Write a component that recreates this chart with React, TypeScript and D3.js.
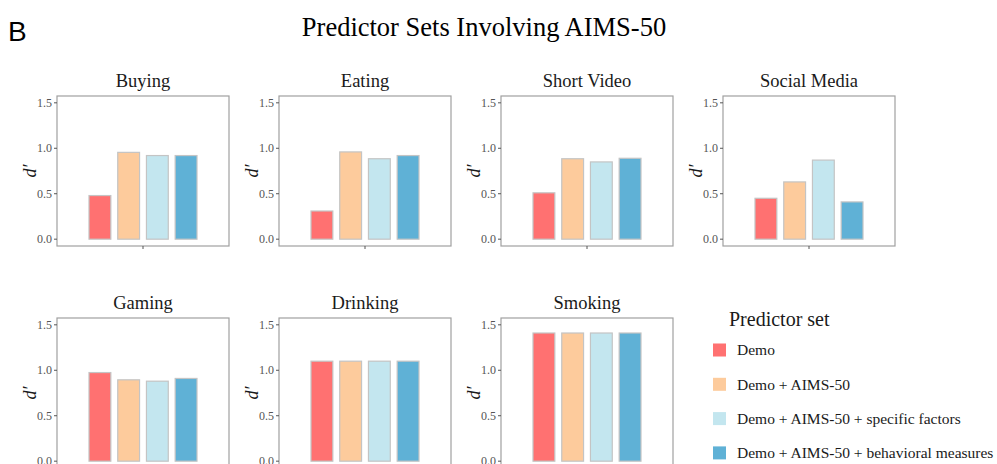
import * as d3 from "d3";

const panels = ["Buying", "Eating", "Short Video", "Social Media", "Gaming", "Drinking", "Smoking"];
const series = [
  "Demo",
  "Demo + AIMS-50",
  "Demo + AIMS-50 + specific factors",
  "Demo + AIMS-50 + behavioral measures",
];
const colors = ["#FF7171", "#FDCB9C", "#C3E6EF", "#5FB1D6"];

// d' per panel, in series order
const buying = [0.48, 0.955, 0.92, 0.92];
const eating = [0.31, 0.96, 0.885, 0.92];
const shortVideo = [0.51, 0.885, 0.85, 0.89];
const socialMedia = [0.45, 0.63, 0.87, 0.41];
const gaming = [0.975, 0.895, 0.88, 0.91];
const drinking = [1.1, 1.1, 1.1, 1.1];
const smoking = [1.41, 1.41, 1.41, 1.41];
const values = [buying, eating, shortVideo, socialMedia, gaming, drinking, smoking];

const yTicks = [0, 0.5, 1, 1.5];

const W = 997;
const H = 464;
const panelW = 172;
const panelH = 150;
const serif = "'Liberation Serif', 'Times New Roman', serif";

const Panel = ({ name, vals, x0, y0 }) => {
  const y = d3.scaleLinear().domain([-0.075, 1.575]).range([panelH, 0]);
  const x = d3.scaleBand().domain(series).range([32, panelW - 32]).paddingInner(0.24);
  const fmt = d3.format(".1f");
  return (
    <g transform={`translate(${x0},${y0})`}>
      <text x={panelW / 2} y={-9} textAnchor="middle" fontFamily={serif} fontSize={18.5} fill="#1a1a1a">
        {name}
      </text>
      {vals.map((v, i) => (
        <rect
          key={i}
          x={x(series[i])}
          y={y(v)}
          width={x.bandwidth()}
          height={y(0) - y(v)}
          fill={colors[i]}
          stroke="#c4c4c4"
          strokeWidth={1.2}
        />
      ))}
      <rect x={0} y={0} width={panelW} height={panelH} fill="none" stroke="#a0a0a0" strokeWidth={1.2} />
      {yTicks.map((t) => (
        <g key={t} transform={`translate(0,${y(t)})`}>
          <line x1={-3} x2={0} stroke="#555" />
          <text x={-5} dy="0.35em" textAnchor="end" fontFamily={serif} fontSize={12} fill="#555">
            {fmt(t)}
          </text>
        </g>
      ))}
      <line x1={panelW / 2} x2={panelW / 2} y1={panelH} y2={panelH + 3} stroke="#555" />
      <text
        transform={`translate(-27,${y(0.75)}) rotate(-90)`}
        textAnchor="middle"
        dy="0.35em"
        fontFamily={serif}
        fontStyle="italic"
        fontSize={18}
        fill="#1a1a1a"
      >
        d′
      </text>
    </g>
  );
};

export default function App() {
  const colX = d3.scaleLinear().domain([0, 1]).range([57, 279]);
  const rowY = d3.scaleLinear().domain([0, 1]).range([96, 318]);
  return (
    <svg width={W} height={H} style={{ position: "absolute", left: 0, top: 0, background: "#fff" }}>
      <text x={8} y={41} fontFamily="'Liberation Sans', Arial, sans-serif" fontSize={28} fill="#000">
        B
      </text>
      <text x={484} y={36} textAnchor="middle" fontFamily={serif} fontSize={26.5} fill="#000">
        Predictor Sets Involving AIMS-50
      </text>
      {panels.map((p, i) => (
        <Panel key={p} name={p} vals={values[i]} x0={colX(i % 4)} y0={rowY(Math.floor(i / 4))} />
      ))}
      <g transform="translate(713,0)">
        <text x={16} y={326} fontFamily={serif} fontSize={20} fill="#1a1a1a">
          Predictor set
        </text>
        {series.map((s, i) => (
          <g key={s} transform={`translate(0,${350 + i * 34.3})`}>
            <rect x={0} y={-6.5} width={13} height={13} fill={colors[i]} />
            <text x={24} dy="0.35em" fontFamily={serif} fontSize={15.5} fill="#1a1a1a">
              {s}
            </text>
          </g>
        ))}
      </g>
    </svg>
  );
}
